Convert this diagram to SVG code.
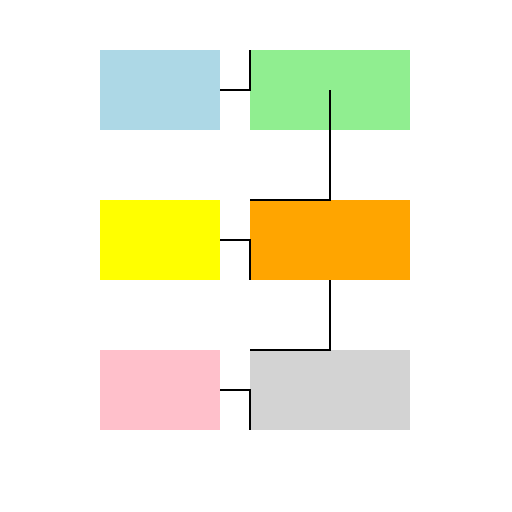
<svg xmlns="http://www.w3.org/2000/svg" width="512" height="512" viewBox="0 0 512 512">
<style>
.conn{fill:none;stroke:#000;stroke-width:2}
</style>
<rect width="512" height="512" fill="#fff"/>
<g id="node-blue"><rect x="100" y="50" width="120" height="80" fill="lightblue"/></g>
<g id="node-green"><rect x="250" y="50" width="160" height="80" fill="lightgreen"/></g>
<g id="node-yellow"><rect x="100" y="200" width="120" height="80" fill="yellow"/></g>
<g id="node-orange"><rect x="250" y="200" width="160" height="80" fill="orange"/></g>
<g id="node-pink"><rect x="100" y="350" width="120" height="80" fill="pink"/></g>
<g id="node-gray"><rect x="250" y="350" width="160" height="80" fill="lightgray"/></g>
<g id="connectors">
<path class="conn" d="M220,90 H250 V50"/>
<path class="conn" d="M330,90 V200 H250"/>
<path class="conn" d="M220,240 H250 V280"/>
<path class="conn" d="M330,280 V350 H250"/>
<path class="conn" d="M220,390 H250 V430"/>
</g>
</svg>
